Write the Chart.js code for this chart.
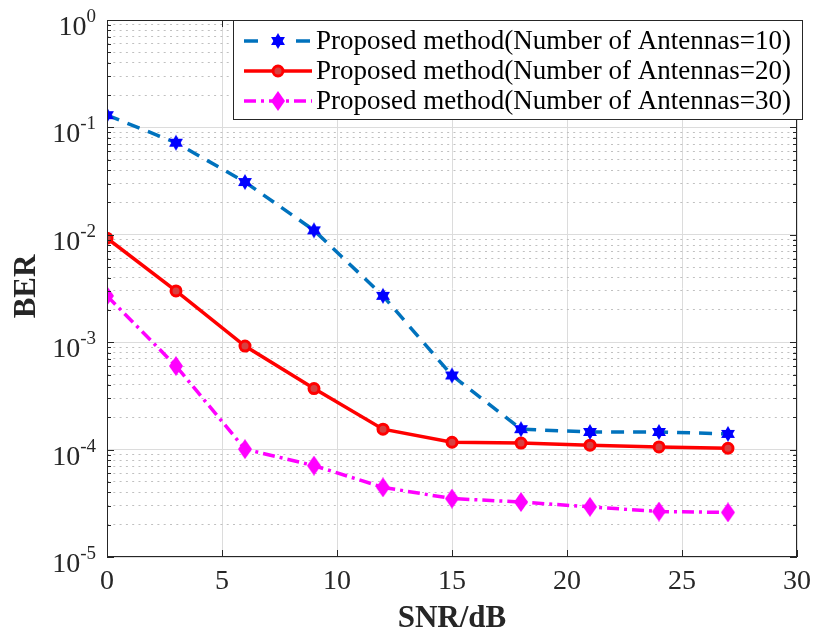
<!DOCTYPE html>
<html>
<head>
<meta charset="utf-8">
<script src="https://cdn.jsdelivr.net/npm/chart.js@4"></script>
<style>
  body { margin: 0; background: #fff; }
  canvas { display: block; }
</style>
</head>
<body>
<canvas id="ber" width="819" height="643"></canvas>
<script>
// SNR values (dB) and BER
const snr = [0, 3, 6, 9, 12, 15, 18, 21, 24, 27];
const ber10 = [0.13, 0.072, 0.031, 0.011, 0.0027, 0.00049, 0.000155, 0.000146, 0.000146, 0.000140];
const ber20 = [0.0093, 0.0030, 0.00092, 0.00037, 0.000155, 0.000117, 0.000115, 0.000110, 0.000106, 0.000103];
const ber30 = [0.0027, 0.00060, 0.000101, 0.000071, 0.0000445, 0.000035, 0.0000325, 0.0000293, 0.0000265, 0.000026];

const seriesNames = [
    'Proposed method(Number of Antennas=10)',
    'Proposed method(Number of Antennas=20)',
    'Proposed method(Number of Antennas=30)'
];
const xTicks = [0, 5, 10, 15, 20, 25, 30];
const yTickExps = [-5, -4, -3, -2, -1, 0];

const FONT = "'Liberation Serif', 'Times New Roman', serif";
const AXIS_COLOR = '#262626';

function makeStar(r, color) {
    const c = document.createElement('canvas');
    c.width = c.height = 2 * r + 2;
    const g = c.getContext('2d');
    g.fillStyle = color;
    g.translate(r + 1, r + 1);
    for (let t = 0; t < 2; t++) {
        g.beginPath();
        for (let i = 0; i < 3; i++) {
            const a = -Math.PI / 2 + t * Math.PI + i * 2 * Math.PI / 3;
            const px = r * Math.cos(a), py = r * Math.sin(a);
            if (i === 0) g.moveTo(px, py); else g.lineTo(px, py);
        }
        g.closePath();
        g.fill();
    }
    return c;
}

function makeDiamond(w, h, color) {
    const c = document.createElement('canvas');
    c.width = w; c.height = h;
    const g = c.getContext('2d');
    g.fillStyle = color;
    g.beginPath();
    g.moveTo(w / 2, 0);
    g.lineTo(w, h / 2);
    g.lineTo(w / 2, h);
    g.lineTo(0, h / 2);
    g.closePath();
    g.fill();
    return c;
}

const starImg = makeStar(8, '#0000ff');
const diamondImg = makeDiamond(14, 20, '#ff00ff');

function pts(ys) {
    return snr.map((x, i) => ({x: x, y: ys[i]}));
}

function isDecade(v) {
    const l = Math.log10(v);
    return Math.abs(l - Math.round(l)) < 1e-9;
}

// box, inward ticks, y tick labels, titles and legend
const decorPlugin = {
    id: 'decor',
    afterDraw(chart) {
        const ctx = chart.ctx;
        const a = chart.chartArea;
        const xs = chart.scales.x, ys = chart.scales.y;
        ctx.save();

        ctx.strokeStyle = AXIS_COLOR;
        ctx.lineWidth = 1;
        ctx.setLineDash([]);
        ctx.strokeRect(a.left + 0.5, a.top + 0.5, a.right - a.left - 1, a.bottom - a.top - 1);

        ctx.beginPath();
        xTicks.forEach(v => {
            const px = Math.round(xs.getPixelForValue(v)) + 0.5;
            ctx.moveTo(px, a.bottom); ctx.lineTo(px, a.bottom - 7);
            ctx.moveTo(px, a.top); ctx.lineTo(px, a.top + 7);
        });
        ys.ticks.forEach(t => {
            const py = Math.round(ys.getPixelForValue(t.value)) + 0.5;
            const len = isDecade(t.value) ? 7 : 4;
            ctx.moveTo(a.left, py); ctx.lineTo(a.left + len, py);
            ctx.moveTo(a.right, py); ctx.lineTo(a.right - len, py);
        });
        ctx.stroke();

        // y tick labels with superscript exponent
        ctx.fillStyle = AXIS_COLOR;
        ctx.textBaseline = 'alphabetic';
        yTickExps.forEach(e => {
            const py = ys.getPixelForValue(Math.pow(10, e));
            const expStr = e === 0 ? '0' : '-' + Math.abs(e);
            ctx.font = '19px ' + FONT;
            const ew = ctx.measureText(expStr).width;
            ctx.textAlign = 'right';
            ctx.fillText(expStr, 96, py + 2);
            ctx.font = '28px ' + FONT;
            ctx.fillText('10', 96 - ew, py + 15);
        });

        // axis titles
        ctx.font = 'bold 31px ' + FONT;
        ctx.textAlign = 'center';
        ctx.fillText('SNR/dB', (a.left + a.right) / 2, 627);
        ctx.save();
        ctx.translate(35, (a.top + a.bottom) / 2 - 2);
        ctx.rotate(-Math.PI / 2);
        ctx.fillText('BER', 0, 0);
        ctx.restore();

        // legend
        const bx = 233, by = 20, bw = 569, bh = 99;
        ctx.fillStyle = '#ffffff';
        ctx.fillRect(bx, by, bw, bh);
        ctx.strokeStyle = AXIS_COLOR;
        ctx.lineWidth = 1;
        ctx.strokeRect(bx + 0.5, by + 0.5, bw, bh);
        chart.data.datasets.forEach((ds, i) => {
            const ry = 41 + i * 30;
            ctx.strokeStyle = ds.borderColor;
            ctx.lineWidth = ds.borderWidth;
            ctx.setLineDash(ds.legendDash || ds.borderDash || []);
            ctx.lineDashOffset = 0;
            ctx.beginPath();
            ctx.moveTo(244, ry); ctx.lineTo(312, ry);
            ctx.stroke();
            ctx.setLineDash([]);
            const ps = ds.pointStyle;
            if (ps instanceof HTMLCanvasElement) {
                ctx.drawImage(ps, 278 - ps.width / 2, ry - ps.height / 2);
            } else {
                ctx.beginPath();
                ctx.arc(278, ry, ds.pointRadius, 0, 2 * Math.PI);
                ctx.fillStyle = ds.pointBackgroundColor;
                ctx.fill();
                ctx.lineWidth = ds.pointBorderWidth;
                ctx.strokeStyle = ds.pointBorderColor;
                ctx.stroke();
            }
            ctx.fillStyle = '#000000';
            ctx.font = '27px ' + FONT;
            ctx.textAlign = 'left';
            ctx.textBaseline = 'middle';
            ctx.fillText(seriesNames[i], 316, ry + 1);
        });
        ctx.restore();
    }
};

new Chart(document.getElementById('ber'), {
    type: 'line',
    data: {
        datasets: [{
            label: seriesNames[0],
            data: pts(ber10),
            borderColor: '#0072bd',
            borderWidth: 3.5,
            borderDash: [13, 9],
            legendDash: [14, 38],
            pointStyle: starImg,
            pointRadius: 8
        }, {
            label: seriesNames[1],
            data: pts(ber20),
            borderColor: '#ff0000',
            borderWidth: 3.5,
            pointStyle: 'circle',
            pointRadius: 5,
            pointBorderWidth: 3,
            pointBorderColor: '#ff0000',
            pointBackgroundColor: '#d84040'
        }, {
            label: seriesNames[2],
            data: pts(ber30),
            borderColor: '#ff00ff',
            borderWidth: 3.5,
            borderDash: [12, 5, 3, 5],
            pointStyle: diamondImg,
            pointRadius: 9
        }]
    },
    options: {
        responsive: false,
        animation: false,
        devicePixelRatio: 1,
        layout: {padding: {top: 20, right: 22, left: 0, bottom: 0}},
        plugins: {legend: {display: false}, tooltip: {enabled: false}},
        scales: {
            x: {
                type: 'linear',
                min: 0,
                max: 30,
                afterFit: s => { s.height = 86; },
                afterBuildTicks: s => { s.ticks = xTicks.map(v => ({value: v})); },
                ticks: {
                    autoSkip: false,
                    maxRotation: 0,
                    padding: 8,
                    color: AXIS_COLOR,
                    font: {family: FONT, size: 28}
                },
                grid: {color: '#dcdcdc', lineWidth: 1, drawTicks: false},
                border: {display: false}
            },
            y: {
                type: 'logarithmic',
                min: 1e-5,
                max: 1,
                afterFit: s => { s.width = 107; },
                afterBuildTicks: s => {
                    const t = [];
                    yTickExps.forEach(e => {
                        for (let m = 1; m <= 9; m++) {
                            if (e === 0 && m > 1) break;
                            t.push({value: m * Math.pow(10, e)});
                        }
                    });
                    s.ticks = t;
                },
                ticks: {display: false, autoSkip: false},
                grid: {
                    drawTicks: false,
                    color: c => isDecade(c.tick.value) ? '#dcdcdc' : '#c0c0c0',
                    lineWidth: 1
                },
                border: {
                    display: false,
                    dash: c => isDecade(c.tick.value) ? [] : [2, 4.3]
                }
            }
        }
    },
    plugins: [decorPlugin]
});
</script>
</body>
</html>
